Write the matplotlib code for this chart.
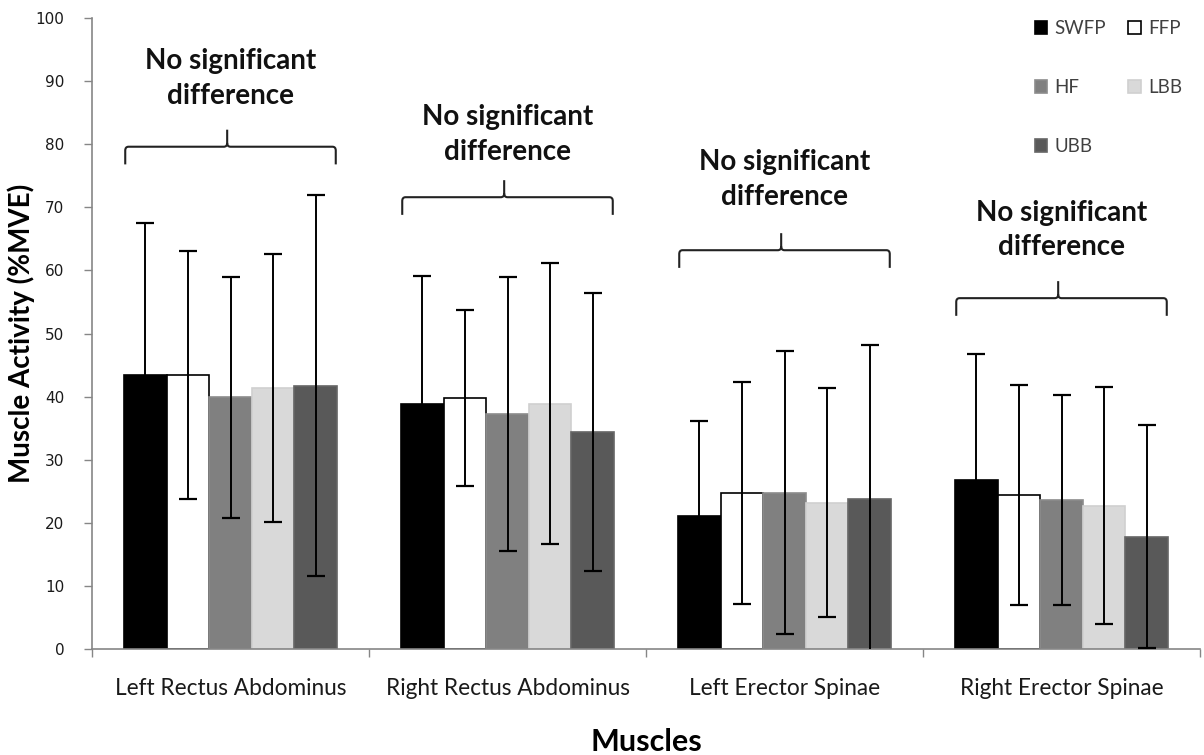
import matplotlib
matplotlib.use("Agg")
import matplotlib.pyplot as plt
import numpy as np
from matplotlib.path import Path
from matplotlib.patches import PathPatch

plt.rcParams['font.family'] = ['Lato', 'DejaVu Sans']

categories = ["Left Rectus Abdominus", "Right Rectus Abdominus",
              "Left Erector Spinae", "Right Erector Spinae"]
series = ["SWFP", "FFP", "HF", "LBB", "UBB"]

swfp = [43.4, 38.9, 21.1, 26.8]
ffp = [43.4, 39.8, 24.7, 24.4]
hf = [39.9, 37.2, 24.8, 23.6]
lbb = [41.4, 38.9, 23.2, 22.7]
ubb = [41.7, 34.4, 23.8, 17.8]

swfp_err = [24.1, 20.2, 15.1, 19.9]
ffp_err = [19.6, 14.0, 17.6, 17.4]
hf_err = [19.1, 21.7, 22.4, 16.6]
lbb_err = [21.2, 22.2, 18.2, 18.8]
ubb_err = [30.2, 22.0, 24.3, 17.7]

brace_text = "No significant\ndifference"

values = [swfp, ffp, hf, lbb, ubb]
errors = [swfp_err, ffp_err, hf_err, lbb_err, ubb_err]
colors = ["#000000", "#ffffff", "#808080", "#d9d9d9", "#595959"]
edges = ["#000000", "#000000", "#8c8c8c", "#d0d0d0", "#666666"]

fig = plt.figure(figsize=(12.04, 7.55), dpi=100)
ax = fig.add_axes([92/1204, 106/755, (1200-92)/1204, (649-18)/755])

x = np.arange(len(categories))
w = 0.154
for i, (vals, errs) in enumerate(zip(values, errors)):
    pos = x + (i - 2) * w
    ax.bar(pos, vals, width=w, color=colors[i], edgecolor=edges[i],
           linewidth=1.2, zorder=2, label=series[i])
for i, (vals, errs) in enumerate(zip(values, errors)):
    pos = x + (i - 2) * w
    ax.errorbar(pos, vals, yerr=errs, fmt='none', ecolor='black',
                elinewidth=1.4, capsize=6.5, capthick=1.6, zorder=3)

ax.set_xlim(-0.5, len(categories) - 0.5)
ax.set_ylim(0, 100)
ax.set_yticks(np.arange(0, 101, 10))
ax.set_xticks(x)
ax.set_xticklabels(categories, fontsize=16.3, color='#1a1a1a')
ax.tick_params(axis='x', which='major', length=0, pad=21)
ax.set_xticks(np.arange(-0.5, len(categories)), minor=True)
ax.tick_params(axis='x', which='minor', length=6, color='#868686', width=1)
ax.tick_params(axis='y', length=6, color='#868686', width=1, pad=14)
for lab in ax.get_yticklabels():
    lab.set_fontfamily('DejaVu Sans')
    lab.set_fontsize(11)
    lab.set_color('#1a1a1a')

for s in ['top', 'right']:
    ax.spines[s].set_visible(False)
for s in ['left', 'bottom']:
    ax.spines[s].set_color('#868686')
    ax.spines[s].set_linewidth(1.2)

ax.set_ylabel("Muscle Activity (%MVE)", fontsize=20, fontweight='bold', labelpad=0)
ax.set_xlabel("Muscles", fontsize=22, fontweight='bold', labelpad=21)

# braces
brace_y = [(76.8, 79.6, 82.3), (68.8, 71.6, 74.3), (60.4, 63.2, 65.9), (52.8, 55.6, 58.3)]
text_y = [90.4, 81.6, 74.4, 66.4]
for i in range(len(categories)):
    y0, y1, y2 = brace_y[i]
    xl = x[i] - 2.5 * w + 0.005
    xr = x[i] + 2.5 * w - 0.005
    xc = x[i] - 0.012
    r = 0.012
    verts = [(xl, y0), (xl, y1 - 0.6), (xl, y1), (xl + r, y1),
             (xc - r, y1), (xc, y1), (xc, y1 + 0.6), (xc, y2),
             (xc, y1 + 0.6), (xc, y1), (xc + r, y1),
             (xr - r, y1), (xr, y1), (xr, y1 - 0.6), (xr, y0)]
    codes = [Path.MOVETO, Path.LINETO, Path.CURVE3, Path.CURVE3,
             Path.LINETO, Path.CURVE3, Path.CURVE3, Path.LINETO,
             Path.MOVETO, Path.CURVE3, Path.CURVE3,
             Path.LINETO, Path.CURVE3, Path.CURVE3, Path.LINETO]
    ax.add_patch(PathPatch(Path(verts, codes), facecolor='none',
                           edgecolor='#222222', linewidth=1.5, zorder=4,
                           clip_on=False))
    ax.text(x[i], text_y[i], brace_text, ha='center', va='center',
            fontsize=20, fontweight='bold', linespacing=1.42, color='#111111')

handles, labels = ax.get_legend_handles_labels()
order = [0, 2, 4, 1, 3]
leg = ax.legend([handles[k] for k in order], [labels[k] for k in order],
                ncol=2, loc='upper right',
                bbox_to_anchor=(1199/1204, 1 - 3/755),
                bbox_transform=fig.transFigure, frameon=False,
                fontsize=13.5, handlelength=0.65, handleheight=0.65,
                handletextpad=0.4, labelspacing=2.25, columnspacing=1.2)
for t in leg.get_texts():
    t.set_color('#404040')

fig.savefig("out.png", dpi=100)
